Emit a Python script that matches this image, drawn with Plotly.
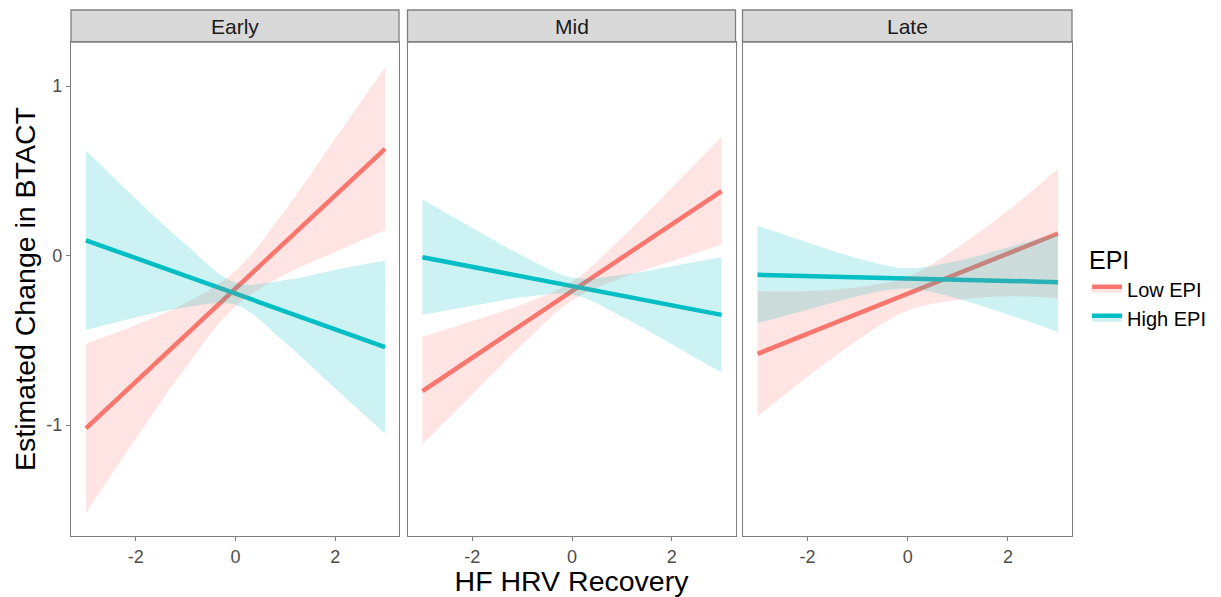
import plotly.graph_objects as go
from plotly.subplots import make_subplots

# ---- data ----
panels = ["Early", "Mid", "Late"]
groups = ["Low EPI", "High EPI"]
x_grid = [-3, -2, -1, 0, 1, 2, 3]

early_low_fit = [-1.02, -0.745, -0.47, -0.195, 0.08, 0.355, 0.63]
early_low_lo = [-1.52, -1.08, -0.66, -0.30, -0.11, 0.02, 0.15]
early_low_hi = [-0.52, -0.41, -0.28, -0.09, 0.27, 0.69, 1.11]
early_high_fit = [0.09, -0.015, -0.12, -0.225, -0.33, -0.435, -0.54]
early_high_lo = [-0.44, -0.365, -0.305, -0.29, -0.515, -0.785, -1.05]
early_high_hi = [0.62, 0.335, 0.065, -0.16, -0.145, -0.085, -0.03]

mid_low_fit = [-0.80, -0.603, -0.407, -0.21, -0.013, 0.183, 0.38]
mid_low_lo = [-1.115, -0.82, -0.525, -0.265, -0.131, -0.034, 0.065]
mid_low_hi = [-0.48, -0.386, -0.289, -0.155, 0.105, 0.40, 0.70]
mid_high_fit = [-0.01, -0.067, -0.123, -0.18, -0.237, -0.293, -0.35]
mid_high_lo = [-0.35, -0.297, -0.246, -0.23, -0.36, -0.523, -0.69]
mid_high_hi = [0.33, 0.163, 0.0, -0.13, -0.114, -0.063, -0.01]

late_low_fit = [-0.58, -0.462, -0.343, -0.225, -0.107, 0.012, 0.13]
late_low_lo = [-0.95, -0.715, -0.499, -0.325, -0.263, -0.241, -0.25]
late_low_hi = [-0.21, -0.209, -0.187, -0.125, 0.049, 0.265, 0.51]
late_high_fit = [-0.114, -0.121, -0.128, -0.135, -0.143, -0.150, -0.157]
late_high_lo = [-0.40, -0.32, -0.24, -0.195, -0.255, -0.348, -0.45]
late_high_hi = [0.177, 0.077, -0.016, -0.075, -0.031, 0.048, 0.13]

y_ticks = [-1, 0, 1]
x_ticks = [-2, 0, 2]

data = {
    "Early": {"Low EPI": (early_low_fit, early_low_lo, early_low_hi),
              "High EPI": (early_high_fit, early_high_lo, early_high_hi)},
    "Mid": {"Low EPI": (mid_low_fit, mid_low_lo, mid_low_hi),
            "High EPI": (mid_high_fit, mid_high_lo, mid_high_hi)},
    "Late": {"Low EPI": (late_low_fit, late_low_lo, late_low_hi),
             "High EPI": (late_high_fit, late_high_lo, late_high_hi)},
}

line_col = {"Low EPI": "#F8766D", "High EPI": "#00BFC4"}
fill_col = {"Low EPI": "rgba(248,118,109,0.2)", "High EPI": "rgba(0,191,196,0.2)"}

OFF = 8  # page body margin
W, H = 1221 - OFF, 597 - OFF
# screen-pixel geometry of the reference
SL, SR, ST, SB = 71, 1072, 10, 536
L, T = SL - OFF, ST - OFF
R = W - (SR - OFF)
B = H - (SB - OFF)
pw = SR - SL
ph = SB - ST
px_x = lambda p: (p - SL) / pw
doms = [(px_x(71), px_x(399)), (px_x(407.5), px_x(735.5)), (px_x(742.5), px_x(1072))]
strip_bottom = (SB - 42) / ph

fig = make_subplots(rows=1, cols=3, shared_yaxes=True, horizontal_spacing=0.01)

for i, p in enumerate(panels):
    col = i + 1
    # lines first (ribbons are drawn on top, as in the reference)
    for g in groups:
        fit = data[p][g][0]
        fig.add_trace(go.Scatter(x=x_grid, y=fit, mode="lines",
                                 line=dict(color=line_col[g], width=4.5),
                                 showlegend=False, hoverinfo="skip"), row=1, col=col)
    for g in groups:
        fit, lo, hi = data[p][g]
        fig.add_trace(go.Scatter(x=x_grid, y=lo, mode="lines",
                                 line=dict(width=0, shape="spline", color=fill_col[g]),
                                 showlegend=False, hoverinfo="skip"), row=1, col=col)
        fig.add_trace(go.Scatter(x=x_grid, y=hi, mode="lines", fill="tonexty",
                                 fillcolor=fill_col[g],
                                 line=dict(width=0, shape="spline", color=fill_col[g]),
                                 showlegend=False, hoverinfo="skip"), row=1, col=col)

# legend entries
for g in groups:
    fig.add_trace(go.Scatter(x=[None], y=[None], mode="lines", name=g, fill="toself",
                             fillcolor=fill_col[g],
                             line=dict(color=line_col[g], width=4.5)), row=1, col=1)

axis_common = dict(showgrid=False, zeroline=False, showline=True, mirror=True,
                   linecolor="#7F7F7F", linewidth=1.3, ticklen=4,
                   tickcolor="#7F7F7F", tickfont=dict(size=18, color="#4D4D4D"))

for i in range(3):
    xa = "xaxis" if i == 0 else f"xaxis{i+1}"
    ya = "yaxis" if i == 0 else f"yaxis{i+1}"
    fig.layout[xa].update(domain=list(doms[i]), range=[-3.3, 3.28], ticks="outside",
                          tickvals=x_ticks, ticktext=[str(v) for v in x_ticks], **axis_common)
    fig.layout[ya].update(domain=[0, strip_bottom], range=[-1.655, 1.26],
                          ticks="outside" if i == 0 else "",
                          tickvals=y_ticks, ticktext=[str(v) for v in y_ticks],
                          showticklabels=(i == 0), **axis_common)
    # strip
    fig.add_shape(type="rect", xref="paper", yref="paper", x0=doms[i][0], x1=doms[i][1],
                  y0=strip_bottom, y1=1, fillcolor="#D9D9D9",
                  line=dict(color="#7F7F7F", width=1.3), layer="below")
    fig.add_annotation(x=(doms[i][0] + doms[i][1]) / 2, y=(strip_bottom + 1) / 2,
                       xref="paper", yref="paper", text=panels[i], showarrow=False,
                       xanchor="center", yanchor="middle",
                       font=dict(size=21, color="#1A1A1A"))

fig.layout.xaxis2.title = dict(text="HF HRV Recovery", font=dict(size=28.5, color="black"),
                               standoff=0)
fig.layout.yaxis.title = dict(text="Estimated Change in BTACT", font=dict(size=28.5, color="black"),
                              standoff=2)

fig.update_layout(
    width=W, height=H,
    margin=dict(l=L, r=R, t=T, b=B, autoexpand=False),
    plot_bgcolor="white", paper_bgcolor="white",
    font=dict(family="Liberation Sans, Arial, sans-serif"),
    legend=dict(title=dict(text="EPI", font=dict(size=25, color="black")),
                font=dict(size=20, color="black"),
                x=1.015, xanchor="left", y=0.473, yanchor="middle",
                bgcolor="rgba(0,0,0,0)", tracegroupgap=0, traceorder="normal"),
    showlegend=True,
)

fig.write_html("out.html")
